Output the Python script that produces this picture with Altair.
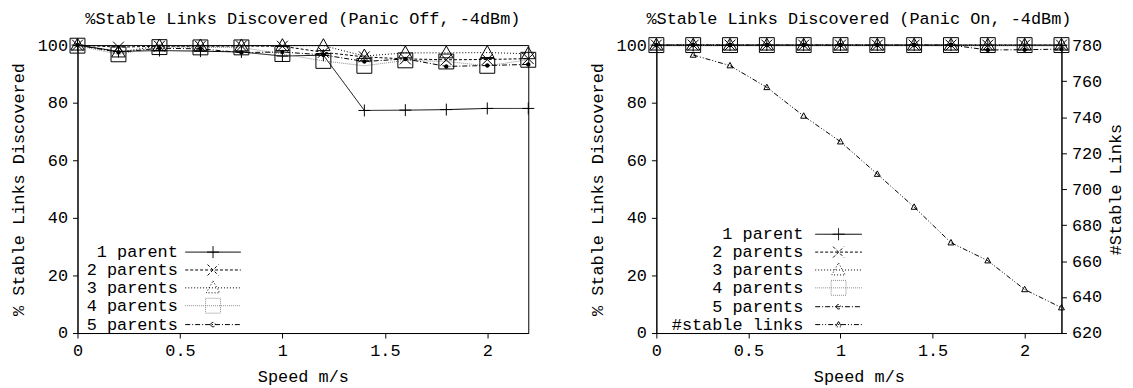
import altair as alt
import pandas as pd

# ---------------- data ----------------
speeds = [0.0, 0.2, 0.4, 0.6, 0.8, 1.0, 1.2, 1.4, 1.6, 1.8, 2.0, 2.2]

# Panic Off
off_1 = [100, 97.8, 98.1, 97.9, 97.6, 96.2, 96.5, 77.3, 77.4, 77.6, 78.0, 78.0]
off_2 = [100, 99.3, 99.6, 99.6, 99.7, 99.6, 97.5, 95.9, 95.2, 94.9, 95.0, 95.3]
off_3 = [100, 97.6, 99.7, 99.7, 99.7, 99.8, 99.8, 96.2, 97.3, 97.3, 97.4, 97.0]
off_4 = [99.8, 96.8, 99.3, 99.2, 99.2, 96.9, 94.5, 92.8, 94.7, 94.3, 92.8, 94.9]
off_5 = [100, 97.5, 98.9, 98.7, 97.4, 97.6, 96.6, 94.3, 95.2, 92.6, 92.9, 93.3]

# Panic On
on_1 = [100, 100, 100, 100, 100, 100, 100, 100, 100, 100, 100, 100]
on_2 = [100, 100, 100, 100, 100, 100, 100, 100, 100, 100, 100, 100]
on_3 = [100, 100, 100, 100, 100, 100, 100, 100, 100, 100, 100, 100]
on_4 = [100, 100, 100, 100, 100, 100, 100, 100, 100, 100, 100, 100]
on_5 = [100, 100, 100, 100, 100, 100, 100, 100, 100, 98.3, 98.4, 98.6]

stable_speeds = [0.2, 0.4, 0.6, 0.8, 1.0, 1.2, 1.4, 1.6, 1.8, 2.0, 2.2]
stable_links = [774.5, 768.6, 756.5, 740.6, 726.3, 708.3, 690.0, 670.2, 660.2, 644.2, 634.1]

parent_names = ["1 parent", "2 parents", "3 parents", "4 parents", "5 parents"]
stable_name = "#stable links"
all_names = parent_names + [stable_name]

x_ticks = [0, 0.5, 1, 1.5, 2]
y_ticks = [0, 20, 40, 60, 80, 100]
y2_ticks = [620, 640, 660, 680, 700, 720, 740, 760, 780]

# ---------------- styles ----------------
FONT = "Liberation Mono"
FS = 17
dashes = [[1, 0], [3, 2], [1, 2], [1, 1], [5, 2, 1, 2], [5, 2, 1, 2, 1, 2]]
line_colors = ["black", "black", "black", "#8c8c8c", "black", "black"]
marker_paths = [
    "M-1.2,0L1.2,0M0,-1.2L0,1.2",
    "M-1.1,-1.1L1.1,1.1M-1.1,1.1L1.1,-1.1",
    "M0,-1.4L1.35,1L-1.35,1Z",
    "M-1.5,-1.5L1.5,-1.5L1.5,1.5L-1.5,1.5Z",
    "M-0.45,0A0.45,0.45 0 1,0 0.45,0A0.45,0.45 0 1,0 -0.45,0Z",
    "M0,-0.65L0.6,0.45L-0.6,0.45Z",
]
marker_filled = [False, False, False, False, True, False]


def long_df(names, series, xs):
    rows = []
    for n, s in zip(names, series):
        for xv, v in zip(xs, s):
            rows.append({"speed": xv, "value": v, "series": n})
    return pd.DataFrame(rows)


df_off = long_df(parent_names, [off_1, off_2, off_3, off_4, off_5], speeds)
df_on = long_df(parent_names, [on_1, on_2, on_3, on_4, on_5], speeds)
df_st = long_df([stable_name], [stable_links], stable_speeds)


def legend_paths(half, names):
    return [f"M{-half},0L{half},0" + marker_paths[all_names.index(n)] for n in names]


def make_legend(lx, ly):
    return alt.Legend(
        title=None, orient="none", legendX=lx, legendY=ly,
        labelAlign="right", labelOffset={"expr": "-44"}, symbolSize=100,
        symbolStrokeWidth=1, symbolOpacity=1, padding=0, rowPadding=0,
        labelFont=FONT, labelFontSize=FS, labelColor="black",
    )


x_enc = alt.X(
    "speed:Q",
    scale=alt.Scale(domain=[0, 2.2], nice=False, zero=False),
    axis=alt.Axis(
        values=x_ticks, format="~g", title="Speed m/s", labelFlush=False,
        tickSize=5, labelPadding=5, titlePadding=10,
    ),
)

y_left = alt.Y(
    "value:Q",
    scale=alt.Scale(domain=[0, 100], nice=False),
    axis=alt.Axis(
        values=y_ticks, title="% Stable Links Discovered", labelFlush=False,
        tickSize=5, labelPadding=5, titlePadding=10,
    ),
)

y_right = alt.Y(
    "value:Q",
    scale=alt.Scale(domain=[620, 780], nice=False, zero=False),
    axis=alt.Axis(
        orient="right", values=y2_ticks, title="#Stable Links", titleAngle=270,
        titleBaseline="top", labelFlush=False, tickSize=5, labelPadding=5, titlePadding=6,
    ),
)


def style_channels(names, legend):
    idx = [all_names.index(n) for n in names]
    return dict(
        strokeDash=alt.StrokeDash(
            "series:N", scale=alt.Scale(domain=names, range=[dashes[i] for i in idx]), legend=legend
        ),
        color=alt.Color(
            "series:N", scale=alt.Scale(domain=names, range=[line_colors[i] for i in idx]), legend=legend
        ),
    )


def marker_layers(df, names, y):
    out = []
    for n in names:
        i = all_names.index(n)
        out.append(
            alt.Chart(df)
            .transform_filter(alt.datum.series == n)
            .mark_point(shape=marker_paths[i], filled=marker_filled[i], color="black",
                        size=100, strokeWidth=1, opacity=1)
            .encode(x=x_enc, y=y)
        )
    return out


def legend_layer(df, names, half, legend, y):
    return (
        alt.Chart(df)
        .transform_filter("false")
        .mark_point(filled=False, size=100, strokeWidth=1, opacity=1)
        .encode(
            x=x_enc, y=y,
            shape=alt.Shape("series:N", scale=alt.Scale(domain=names, range=legend_paths(half, names)), legend=legend),
            **style_channels(names, legend),
        )
    )


W1, W2, H = 454, 408, 290

# ---------------- left panel ----------------
leg1 = make_legend(128, 200)
lines1 = alt.Chart(df_off).mark_line(strokeWidth=1).encode(
    x=x_enc, y=y_left, **style_channels(parent_names, leg1)
)
left = alt.layer(
    lines1, *marker_layers(df_off, parent_names, y_left),
    legend_layer(df_off, parent_names, 5.6, leg1, y_left),
).properties(
    width=W1, height=H,
    title=alt.TitleParams("%Stable Links Discovered (Panic Off, -4dBm)"),
)

# ---------------- right panel ----------------
leg2 = make_legend(175, 182)
lines2 = alt.Chart(df_on).mark_line(strokeWidth=1).encode(
    x=x_enc, y=y_left, **style_channels(all_names, leg2)
)
lines3 = alt.Chart(df_st).mark_line(strokeWidth=1).encode(
    x=x_enc, y=y_right, **style_channels(all_names, leg2)
)
inner_left = alt.layer(
    lines2, *marker_layers(df_on, parent_names, y_left),
    legend_layer(df_on, all_names, 4.7, leg2, y_left),
)
inner_right = alt.layer(lines3, *marker_layers(df_st, [stable_name], y_right))
right = alt.layer(inner_left, inner_right).resolve_scale(y="independent").properties(
    width=W2, height=H,
    title=alt.TitleParams("%Stable Links Discovered (Panic On, -4dBm)"),
)

chart = (
    alt.hconcat(left, right, spacing=49)
    .resolve_scale(color="independent", strokeDash="independent", shape="independent")
    .resolve_legend(color="independent", strokeDash="independent", shape="independent")
    .properties(padding={"left": 0, "top": 0, "right": 0, "bottom": 0})
    .configure_view(stroke="black", strokeWidth=1)
    .configure_axis(
        labelFont=FONT, titleFont=FONT, labelFontSize=FS, titleFontSize=FS,
        labelColor="black", titleColor="black", titleFontWeight="normal",
        domainColor="black", tickColor="black", grid=False,
    )
    .configure_title(
        font=FONT, fontSize=FS, fontWeight="normal", color="black",
        anchor="middle", frame="group", offset=8,
    )
)

chart.save("out.html", embed_options={"renderer": "svg", "actions": False})
